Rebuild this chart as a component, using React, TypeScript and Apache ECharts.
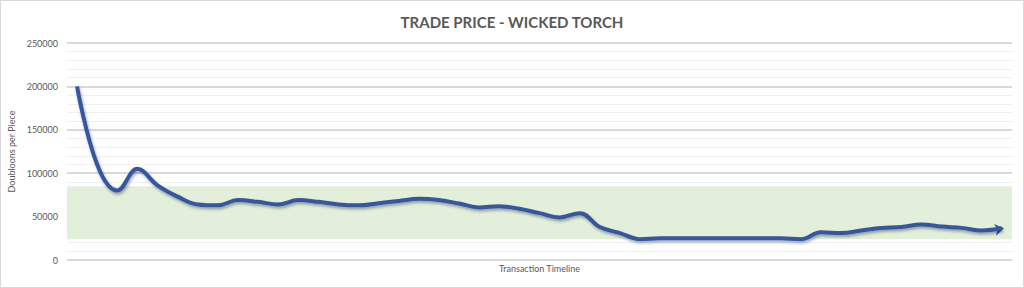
import React, { useEffect, useRef } from "react";
import * as echarts from "echarts";

const chartTitle = "TRADE PRICE - WICKED TORCH";
const yAxisTitle = "Doubloons per Piece";
const xAxisTitle = "Transaction Timeline";

const prices: number[] = [
  200000, 110000, 80000, 105000, 86000, 73000, 64000, 63000, 69000, 67000,
  64000, 69000, 67000, 64000, 63000, 65500, 68000, 70500, 69000, 65000,
  60500, 62000, 59000, 54000, 49000, 54000, 38000, 31000, 24000, 25000,
  25000, 25000, 25000, 25000, 25000, 25000, 24000, 32000, 31000, 34000,
  37000, 38000, 41000, 38500, 37000, 34000, 36500,
];
const transactions: string[] = prices.map((_, i) => String(i + 1));

const bandLow = 24000;
const bandHigh = 85000;

export default function App() {
  const ref = useRef<HTMLDivElement>(null);
  useEffect(() => {
    if (!ref.current) return;
    const chart = echarts.init(ref.current, undefined, { renderer: "svg" });
    const last = prices.length - 1;
    chart.setOption({
      animation: false,
      backgroundColor: "#ffffff",
      title: {
        text: chartTitle,
        left: "center",
        top: 8,
        textStyle: {
          fontFamily: "Lato",
          fontWeight: "bold",
          fontSize: 15,
          color: "#595959",
        },
      },
      grid: { left: 66, right: 11, top: 42, bottom: 27, outerBoundsMode: "none", containLabel: false },
      xAxis: {
        type: "category",
        data: transactions,
        boundaryGap: true,
        name: xAxisTitle,
        nameLocation: "middle",
        nameGap: 4,
        nameTextStyle: { fontFamily: "Lato", fontSize: 9, color: "#595959", verticalAlign: "top" },
        axisLine: { show: false },
        axisTick: { show: false },
        axisLabel: { show: false },
        splitLine: { show: false },
      },
      yAxis: {
        type: "value",
        min: 0,
        max: 250000,
        interval: 50000,
        name: yAxisTitle,
        nameLocation: "middle",
        nameGap: 44,
        nameTextStyle: { fontFamily: "Lato", fontSize: 9, color: "#595959" },
        axisLine: { show: false },
        axisTick: { show: false },
        axisLabel: {
          fontFamily: "Lato",
          fontSize: 9,
          color: "#595959",
          margin: 9,
          formatter: (v: number) => String(v),
        },
        splitLine: { show: true, lineStyle: { color: "#d9d9d9", width: 2 } },
        minorTick: { show: false, splitNumber: 5 },
        minorSplitLine: { show: true, lineStyle: { color: "#f0f0f0", width: 1 } },
      },
      series: [
        {
          type: "line",
          data: prices,
          smooth: 0.4,
          symbol: "none",
          lineStyle: {
            color: "#3657a0",
            width: 4,
            shadowColor: "rgba(0,0,0,0.35)",
            shadowBlur: 3,
            shadowOffsetX: 1,
            shadowOffsetY: 2,
          },
          itemStyle: { color: "#3657a0" },
          markArea: {
            silent: true,
            itemStyle: { color: "#e2efda" },
            data: [[{ yAxis: bandLow }, { yAxis: bandHigh }]],
          },
          markPoint: {
            silent: true,
            symbol: "arrow",
            symbolSize: [9, 9],
            symbolRotate: -80,
            symbolOffset: [2, 0],
            itemStyle: { color: "#3657a0" },
            label: { show: false },
            data: [{ coord: [last, prices[last]] }],
          },
          z: 5,
        },
      ],
    });
    return () => chart.dispose();
  }, []);
  return (
    <div
      ref={ref}
      style={{
        position: "fixed",
        left: 0,
        top: 0,
        width: 1024,
        height: 288,
        boxSizing: "border-box",
        border: "1px solid #d9d9d9",
      }}
    />
  );
}
